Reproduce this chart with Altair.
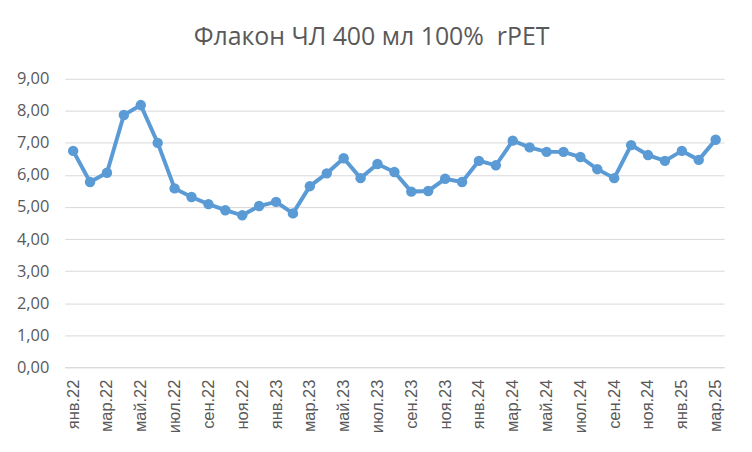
import altair as alt
import pandas as pd

months = [
    "янв.22", "фев.22", "мар.22", "апр.22", "май.22", "июн.22",
    "июл.22", "авг.22", "сен.22", "окт.22", "ноя.22", "дек.22",
    "янв.23", "фев.23", "мар.23", "апр.23", "май.23", "июн.23",
    "июл.23", "авг.23", "сен.23", "окт.23", "ноя.23", "дек.23",
    "янв.24", "фев.24", "мар.24", "апр.24", "май.24", "июн.24",
    "июл.24", "авг.24", "сен.24", "окт.24", "ноя.24", "дек.24",
    "янв.25", "фев.25", "мар.25",
]
values = [
    6.75, 5.78, 6.07, 7.87, 8.18, 7.00,
    5.58, 5.31, 5.09, 4.90, 4.74, 5.03,
    5.16, 4.80, 5.65, 6.05, 6.52, 5.90,
    6.34, 6.09, 5.48, 5.50, 5.88, 5.78,
    6.44, 6.30, 7.07, 6.86, 6.72, 6.72,
    6.56, 6.18, 5.90, 6.93, 6.62, 6.44,
    6.75, 6.47, 7.10,
]
shown_labels = months[::2]
y_ticks = [0, 1, 2, 3, 4, 5, 6, 7, 8, 9]
title_text = "Флакон ЧЛ 400 мл 100%\u00a0 rPET"

df = pd.DataFrame({"month": months, "value": values})

line_color = "#5B9BD5"
text_color = "#595959"
grid_color = "#D9D9D9"

chart = (
    alt.Chart(df)
    .mark_line(
        color=line_color,
        strokeWidth=4,
        point=alt.OverlayMarkDef(filled=True, color=line_color, size=110, opacity=1),
    )
    .encode(
        x=alt.X(
            "month:O",
            sort=months,
            scale=alt.Scale(type="point", padding=0.5),
            axis=alt.Axis(
                title=None,
                values=shown_labels,
                labelAngle=-90,
                labelAlign="right",
                labelBaseline="middle",
                labelPadding=12,
                labelFont="Liberation Sans",
                labelFontSize=16.5,
                labelColor=text_color,
                ticks=False,
                domain=True,
                domainColor=grid_color,
                domainWidth=1,
                grid=False,
            ),
        ),
        y=alt.Y(
            "value:Q",
            scale=alt.Scale(domain=[0, 9], nice=False, zero=True),
            axis=alt.Axis(
                title=None,
                values=y_ticks,
                labelExpr="replace(format(datum.value, '.2f'), '.', ',')",
                labelFont="Open Sans",
                labelFontSize=16.5,
                labelColor=text_color,
                labelPadding=16,
                ticks=False,
                domain=False,
                grid=True,
                gridColor=grid_color,
                gridWidth=1,
            ),
        ),
    )
    .properties(
        width=663,
        height=290,
        title=alt.TitleParams(
            text=title_text,
            font="Open Sans",
            fontSize=25,
            fontWeight="normal",
            color=text_color,
            anchor="middle",
            dx=-23,
            offset=21,
        ),
        padding={"left": 57, "top": 70, "right": 20, "bottom": 76},
        autosize=alt.AutoSizeParams(type="none"),
        background="white",
    )
    .configure_view(stroke=None)
)

chart.save("out.html", embed_options={"renderer": "svg", "actions": False})
